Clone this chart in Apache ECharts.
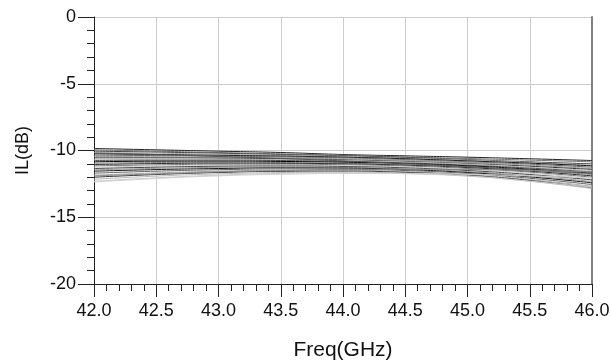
<!DOCTYPE html>
<html>
<head>
<meta charset="utf-8">
<script src="https://cdn.jsdelivr.net/npm/echarts@6/dist/echarts.min.js"></script>
<style>html,body{margin:0;padding:0;background:#fff}#c{width:611px;height:360px}</style>
</head>
<body>
<div id="c"></div>
<script>
const freqs = [42.0, 42.5, 43.0, 43.5, 44.0, 44.5, 45.0, 45.5, 46.0];
const xTicks = ['42.0','42.5','43.0','43.5','44.0','44.5','45.0','45.5','46.0'];
const yTicks = [0, -5, -10, -15, -20];
const traces = [
  [-9.85,-9.95,-10.05,-10.15,-10.3,-10.4,-10.5,-10.62,-10.75],
  [-9.95,-10.05,-10.15,-10.25,-10.35,-10.48,-10.6,-10.72,-10.85],
  [-10.05,-10.12,-10.2,-10.3,-10.4,-10.52,-10.68,-10.85,-11.0],
  [-10.15,-10.2,-10.28,-10.36,-10.45,-10.58,-10.72,-10.9,-11.1],
  [-10.25,-10.3,-10.36,-10.42,-10.5,-10.62,-10.78,-10.95,-11.15],
  [-10.35,-10.38,-10.42,-10.48,-10.55,-10.68,-10.84,-11.02,-11.25],
  [-10.45,-10.47,-10.5,-10.55,-10.62,-10.74,-10.9,-11.1,-11.35],
  [-10.55,-10.55,-10.57,-10.62,-10.7,-10.82,-10.98,-11.18,-11.42],
  [-10.65,-10.64,-10.65,-10.68,-10.75,-10.86,-11.02,-11.25,-11.5],
  [-10.75,-10.72,-10.72,-10.75,-10.82,-10.93,-11.1,-11.32,-11.6],
  [-10.85,-10.8,-10.8,-10.82,-10.88,-10.98,-11.15,-11.4,-11.7],
  [-10.95,-10.9,-10.88,-10.9,-10.95,-11.05,-11.22,-11.48,-11.8],
  [-11.05,-10.98,-10.95,-10.96,-11.0,-11.1,-11.28,-11.55,-11.9],
  [-11.15,-11.08,-11.03,-11.03,-11.07,-11.16,-11.35,-11.62,-12.0],
  [-11.25,-11.16,-11.1,-11.1,-11.14,-11.24,-11.42,-11.7,-12.1],
  [-11.35,-11.25,-11.18,-11.16,-11.2,-11.3,-11.5,-11.8,-12.2],
  [-11.45,-11.34,-11.26,-11.23,-11.26,-11.37,-11.58,-11.9,-12.32],
  [-11.55,-11.43,-11.35,-11.3,-11.32,-11.43,-11.65,-11.98,-12.42],
  [-11.7,-11.55,-11.44,-11.38,-11.4,-11.5,-11.72,-12.08,-12.55],
  [-11.85,-11.68,-11.55,-11.48,-11.48,-11.58,-11.8,-12.18,-12.68],
  [-12.0,-11.8,-11.65,-11.56,-11.55,-11.64,-11.86,-12.25,-12.8],
  [-12.15,-11.92,-11.75,-11.65,-11.62,-11.7,-11.9,-12.3,-12.85],
  [-12.3,-12.05,-11.85,-11.72,-11.68,-11.74,-11.92,-12.3,-12.75],
  [-10.2,-10.3,-10.45,-10.6,-10.78,-10.98,-11.2,-11.45,-11.72],
  [-11.9,-11.75,-11.6,-11.5,-11.42,-11.4,-11.42,-11.5,-11.6],
  [-12.35,-12.1,-11.9,-11.78,-11.72,-11.72,-11.78,-11.9,-12.05]
];
const grays = ['#222','#777','#444','#aaa','#111','#666','#999','#333','#bbb','#555','#000','#888',
               '#2a2a2a','#777','#cfcfcf','#444','#999','#1a1a1a','#666','#aaa','#333','#bbb','#c8c8c8','#555','#888','#d0d0d0'];

const font = 'Arial, "Liberation Sans", sans-serif';
const series = traces.map((t, i) => ({
  type: 'line',
  data: t.map((v, j) => [freqs[j], v]),
  smooth: true,
  showSymbol: false,
  lineStyle: { color: grays[i % grays.length], width: 1 },
  silent: true
}));

const chart = echarts.init(document.getElementById('c'), null, { renderer: 'canvas' });
chart.setOption({
  animation: false,
  backgroundColor: '#fff',
  grid: { left: 94, right: 19, top: 17, bottom: 76, containLabel: false, outerBoundsMode: 'none' },
  xAxis: {
    type: 'value', min: 42, max: 46, interval: 0.5,
    name: 'Freq(GHz)', nameLocation: 'middle', nameGap: 56,
    nameTextStyle: { fontSize: 21, color: '#111', fontFamily: font },
    axisLine: { onZero: false, lineStyle: { color: '#222', width: 1 } },
    axisTick: { show: true, inside: false, length: 13, lineStyle: { color: '#222' } },
    minorTick: { show: true, splitNumber: 5, length: 7, lineStyle: { color: '#222' } },
    axisLabel: { fontSize: 18, color: '#111', fontFamily: font, margin: 18,
      formatter: v => xTicks[Math.round((v - 42) / 0.5)] },
    splitLine: { show: true, lineStyle: { color: '#cccccc', width: 1 } }
  },
  yAxis: [{
    type: 'value', min: -20, max: 0, interval: 5,
    name: 'IL(dB)', nameLocation: 'middle', nameGap: 62, nameRotate: 90,
    nameTextStyle: { fontSize: 18, color: '#111', fontFamily: font },
    axisLine: { show: true, onZero: false, lineStyle: { color: '#222', width: 1 } },
    axisTick: { show: true, inside: false, length: 16, lineStyle: { color: '#222' } },
    minorTick: { show: true, splitNumber: 5, length: 7, lineStyle: { color: '#222' } },
    axisLabel: { fontSize: 18, color: '#111', fontFamily: font, margin: 18,
      formatter: v => String(yTicks[yTicks.indexOf(v)]) },
    splitLine: { show: true, lineStyle: { color: '#cccccc', width: 1 } }
  }, {
    type: 'value', min: -20, max: 0, position: 'right',
    axisLine: { show: true, onZero: false, lineStyle: { color: '#808080', width: 2 } },
    axisTick: { show: false }, axisLabel: { show: false }, splitLine: { show: false }
  }],
  series: series
});
</script>
</body>
</html>
